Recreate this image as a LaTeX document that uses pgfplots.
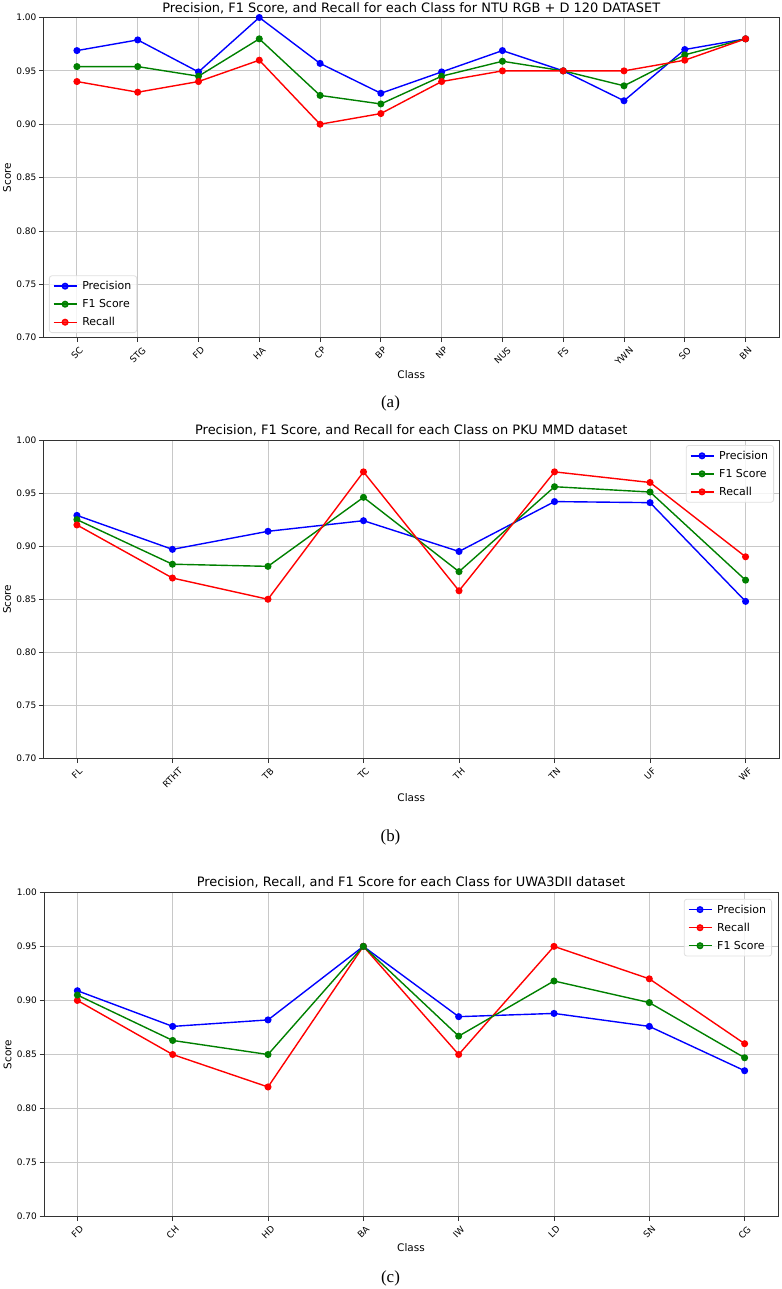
\documentclass[border=0pt]{standalone}
\usepackage{fontspec}
\setmainfont{DejaVu Sans}
\newfontfamily\capfont{Liberation Serif}
\usepackage{graphicx}
\usepackage{pgfplots}
\usepackage{pgfplotstable}
\pgfplotsset{compat=1.18}

\definecolor{mplgreen}{RGB}{0,128,0}
\definecolor{gridc}{RGB}{200,200,200}
\newcommand{\rl}[1]{\rotatebox{45}{#1}}

\pgfplotstableread{
x P F R
0 0.969 0.954 0.940
1 0.979 0.954 0.930
2 0.949 0.945 0.940
3 1.000 0.980 0.960
4 0.957 0.927 0.900
5 0.929 0.919 0.910
6 0.949 0.945 0.940
7 0.969 0.959 0.950
8 0.950 0.950 0.950
9 0.922 0.936 0.950
10 0.970 0.965 0.960
11 0.980 0.980 0.980
}\tabA

\pgfplotstableread{
x P F R
0 0.929 0.925 0.920
1 0.897 0.883 0.870
2 0.914 0.881 0.850
3 0.924 0.946 0.970
4 0.895 0.876 0.858
5 0.942 0.956 0.970
6 0.941 0.951 0.960
7 0.848 0.868 0.890
}\tabB

\pgfplotstableread{
x P R F
0 0.909 0.900 0.905
1 0.876 0.850 0.863
2 0.882 0.820 0.850
3 0.950 0.950 0.950
4 0.885 0.850 0.867
5 0.888 0.950 0.918
6 0.876 0.920 0.898
7 0.835 0.860 0.847
}\tabC

\pgfplotsset{
  mystyle/.style={
    scale only axis,
    ymin=0.70, ymax=1.00,
    ytick={0.70,0.75,0.80,0.85,0.90,0.95,1.00},
    yticklabel style={/pgf/number format/fixed, /pgf/number format/fixed zerofill, /pgf/number format/precision=2},
    /pgf/number format/assume math mode=true,
    tick label style={font=\fontsize{9}{10}\selectfont},
    yticklabel style={anchor=east, inner sep=0pt, xshift=-2.5bp},
    xticklabel style={anchor=north, inner sep=0pt, yshift=-4bp},
    grid=major,
    major grid style={gridc, line width=0.9bp},
    tick align=outside, tick pos=left,
    major tick length=4.5bp,
    every tick/.style={black!80, line width=0.8bp},
    axis line style={line width=0.8bp, black!80},
    every axis y label/.style={at={(axis description cs:0,0.5)}, xshift=-36.5bp, rotate=90, anchor=center, font=\fontsize{10.5}{12}\selectfont},
    every axis x label/.style={at={(axis description cs:0.5,0)}, anchor=center, font=\fontsize{10.5}{12}\selectfont},
    xlabel={Class}, ylabel={Score},
    every axis title/.style={at={(axis description cs:0.5,1)}, anchor=base, yshift=5.5bp, font=\fontsize{13}{15}\selectfont},
    every axis plot/.append style={line width=1.4bp, mark=*, mark size=2.8bp},
    legend cell align=left,
    legend image code/.code={\draw[mark repeat=2,mark phase=2] plot coordinates {(0bp,0bp)(11.5bp,0bp)(23bp,0bp)};},
    legend style={draw=gray!25, line width=0.8bp, rounded corners=2.5bp, fill=white, fill opacity=0.8, text opacity=1, draw opacity=1, font=\fontsize{11}{13}\selectfont, inner sep=3.5bp, row sep=4.3bp, column sep=3bp},
  }
}

\begin{document}
\begin{tikzpicture}
\path[use as bounding box] (0,0) rectangle (782bp,-1289bp);

% ---------- (a)
\begin{axis}[mystyle,
  at={(43.5bp,-337.7bp)}, anchor=south west,
  width=735.5bp, height=320.2bp,
  xmin=-0.55, xmax=11.55,
  xtick={0,...,11},
  xticklabels={\rl{SC},\rl{STG},\rl{FD},\rl{HA},\rl{CP},\rl{BP},\rl{NP},\rl{NUS},\rl{FS},\rl{YWN},\rl{SO},\rl{BN}},
  x label style={yshift=-37.3bp},
  title={Precision, F1 Score, and Recall for each Class for NTU RGB + D 120 DATASET},
  legend style={at={(0,0)}, anchor=south west, xshift=5.5bp, yshift=4.7bp},
]
\addplot[blue, mark options={fill=blue}] table[x=x,y=P]{\tabA};
\addlegendentry{Precision}
\addplot[mplgreen, mark options={fill=mplgreen}] table[x=x,y=F]{\tabA};
\addlegendentry{F1 Score}
\addplot[red, mark options={fill=red}] table[x=x,y=R]{\tabA};
\addlegendentry{Recall}
\end{axis}
\node[font=\capfont\fontsize{17}{19}\selectfont] at (390.5bp,-403bp) {(a)};

% ---------- (b)
\begin{axis}[mystyle,
  at={(43.5bp,-758.5bp)}, anchor=south west,
  width=735.5bp, height=318.5bp,
  xmin=-0.35, xmax=7.35,
  xtick={0,...,7},
  xticklabels={\rl{FL},\rl{RTHT},\rl{TB},\rl{TC},\rl{TH},\rl{TN},\rl{UF},\rl{WF}},
  x label style={yshift=-39.5bp},
  title={Precision, F1 Score, and Recall for each Class on PKU MMD dataset},
  legend style={at={(1,1)}, anchor=north east, xshift=-5bp, yshift=-5bp},
]
\addplot[blue, mark options={fill=blue}] table[x=x,y=P]{\tabB};
\addlegendentry{Precision}
\addplot[mplgreen, mark options={fill=mplgreen}] table[x=x,y=F]{\tabB};
\addlegendentry{F1 Score}
\addplot[red, mark options={fill=red}] table[x=x,y=R]{\tabB};
\addlegendentry{Recall}
\end{axis}
\node[font=\capfont\fontsize{17}{19}\selectfont] at (390.5bp,-837bp) {(b)};

% ---------- (c)
\begin{axis}[mystyle,
  at={(44bp,-1216.7bp)}, anchor=south west,
  width=734bp, height=324.4bp,
  xmin=-0.35, xmax=7.35,
  xtick={0,...,7},
  xticklabels={\rl{FD},\rl{CH},\rl{HD},\rl{BA},\rl{IW},\rl{LD},\rl{SN},\rl{CG}},
  x label style={yshift=-31.3bp},
  title={Precision, Recall, and F1 Score for each Class for UWA3DII dataset},
  legend style={at={(1,1)}, anchor=north east, xshift=-6bp, yshift=-6.5bp},
]
\addplot[blue, mark options={fill=blue}] table[x=x,y=P]{\tabC};
\addlegendentry{Precision}
\addplot[red, mark options={fill=red}] table[x=x,y=R]{\tabC};
\addlegendentry{Recall}
\addplot[mplgreen, mark options={fill=mplgreen}] table[x=x,y=F]{\tabC};
\addlegendentry{F1 Score}
\end{axis}
\node[font=\capfont\fontsize{17}{19}\selectfont] at (390.5bp,-1278bp) {(c)};
\end{tikzpicture}
\end{document}
